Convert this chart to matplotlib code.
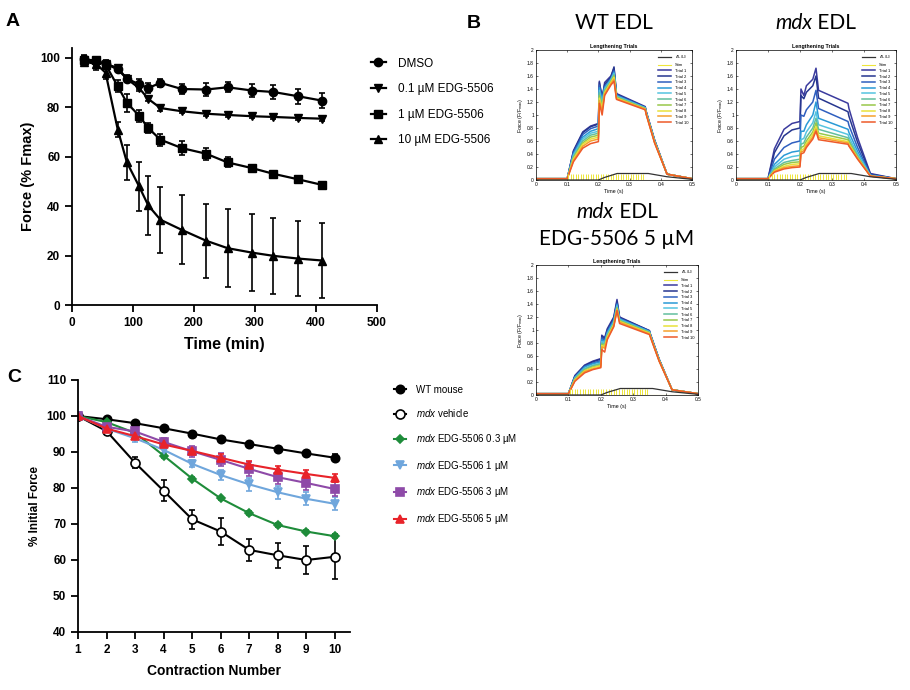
import numpy as np
import matplotlib
matplotlib.use('Agg')
import matplotlib.pyplot as plt
from matplotlib.lines import Line2D
from matplotlib.ticker import FormatStrFormatter

plt.rcParams['font.family'] = ['Liberation Sans', 'DejaVu Sans']
plt.rcParams['mathtext.fontset'] = 'custom'
plt.rcParams['mathtext.it'] = 'Liberation Sans:italic'
plt.rcParams['mathtext.rm'] = 'Liberation Sans'

# ---------------- panel A : force over time ----------------
a_time = [20, 40, 55, 75, 90, 110, 125, 145, 180, 220, 255, 295, 330, 370, 410]
dmso = [99.5, 98.6, 97.7, 95.3, 91.6, 89.3, 87.8, 89.9, 87.4, 87.2, 88.1, 86.8, 86.2, 84.5, 82.7]
dmso_err = [1.5, 1.5, 1.5, 1.0, 1.5, 2.0, 2.0, 1.5, 2.0, 2.5, 2.0, 2.5, 3.0, 3.0, 3.0]
edg_01 = [98.5, 98.2, 97.5, 96.0, 91.5, 87.8, 83.4, 79.7, 78.4, 77.4, 76.9, 76.4, 76.1, 75.7, 75.4]
edg_01_err = [1, 1, 1, 1, 1, 1, 1, 1, 0.8, 0.8, 0.8, 0.8, 0.8, 0.8, 0.8]
edg_1 = [99.3, 99.0, 97.3, 88.5, 81.8, 76.6, 71.6, 66.9, 63.5, 61.2, 57.7, 55.4, 53.1, 50.9, 48.6]
edg_1_err = [1.5, 1.5, 1.5, 2.5, 3.5, 2.5, 2.0, 2.5, 3.0, 2.5, 2.0, 1.0, 1.0, 1.0, 1.0]
edg_10 = [98.5, 97.5, 94.0, 71.0, 57.7, 48.0, 40.3, 34.5, 30.4, 26.0, 23.0, 21.2, 19.9, 18.8, 18.0]
edg_10_err = [1.5, 2.5, 2.5, 3.0, 7.0, 10.0, 12.0, 13.4, 14.0, 15.0, 15.7, 15.5, 15.4, 15.0, 15.0]
a_labels = ['DMSO', '0.1 µM EDG-5506', '1 µM EDG-5506', '10 µM EDG-5506']

# ---------------- panel B : lengthening trials ----------------
b_time = [0, 0.1, 0.12, 0.15, 0.175, 0.2, 0.203, 0.212, 0.22, 0.24, 0.25, 0.258, 0.35, 0.353, 0.38, 0.42, 0.5]
wt_trials = [
    [.02, .02, .45, .74, .83, .87, 1.52, 1.22, 1.50, 1.60, 1.72, 1.33, 1.13, 1.06, .62, .09, .02],
    [.02, .02, .44, .73, .82, .86, 1.50, 1.28, 1.47, 1.58, 1.74, 1.32, 1.12, 1.05, .61, .09, .02],
    [.02, .02, .42, .70, .79, .83, 1.46, 1.25, 1.44, 1.56, 1.68, 1.31, 1.12, 1.05, .61, .09, .02],
    [.02, .02, .40, .66, .75, .79, 1.42, 1.22, 1.42, 1.55, 1.66, 1.30, 1.11, 1.04, .60, .09, .02],
    [.02, .02, .38, .63, .72, .75, 1.38, 1.18, 1.40, 1.54, 1.64, 1.29, 1.11, 1.04, .60, .09, .02],
    [.02, .02, .36, .60, .69, .72, 1.34, 1.15, 1.38, 1.52, 1.62, 1.28, 1.10, 1.03, .59, .09, .02],
    [.02, .02, .34, .57, .66, .69, 1.30, 1.12, 1.36, 1.51, 1.60, 1.27, 1.10, 1.03, .59, .09, .02],
    [.02, .02, .32, .55, .63, .66, 1.26, 1.10, 1.34, 1.50, 1.58, 1.26, 1.09, 1.02, .58, .09, .02],
    [.02, .02, .30, .52, .60, .63, 1.22, 1.06, 1.32, 1.48, 1.55, 1.25, 1.09, 1.02, .58, .09, .02],
    [.02, .02, .28, .49, .56, .59, 1.18, 1.00, 1.30, 1.46, 1.52, 1.24, 1.08, 1.01, .57, .09, .02],
]
mdx_trials = [
    [.02, .02, .48, .78, .87, .90, 1.40, 1.30, 1.45, 1.55, 1.72, 1.38, 1.18, 1.10, .65, .10, .02],
    [.02, .02, .42, .68, .77, .80, 1.30, 1.25, 1.35, 1.45, 1.60, 1.26, 1.05, .98, .58, .09, .02],
    [.02, .02, .32, .50, .57, .60, 1.00, .98, 1.08, 1.20, 1.38, 1.10, .90, .84, .50, .08, .02],
    [.02, .02, .24, .38, .43, .45, .75, .75, .85, 1.00, 1.20, .95, .78, .73, .44, .07, .02],
    [.02, .02, .20, .32, .36, .38, .62, .64, .74, .88, 1.05, .85, .70, .66, .40, .07, .02],
    [.02, .02, .17, .27, .30, .32, .55, .57, .66, .80, .95, .78, .65, .61, .37, .06, .02],
    [.02, .02, .15, .24, .27, .28, .50, .52, .60, .74, .88, .72, .62, .58, .35, .06, .02],
    [.02, .02, .14, .21, .24, .25, .46, .48, .56, .70, .82, .68, .59, .55, .34, .06, .02],
    [.02, .02, .13, .19, .21, .22, .43, .45, .53, .66, .78, .65, .57, .53, .33, .06, .02],
    [.02, .02, .12, .17, .19, .20, .40, .42, .50, .63, .75, .62, .55, .52, .32, .06, .02],
]
edg_trials = [
    [.02, .02, .30, .46, .52, .56, .92, .88, 1.02, 1.20, 1.47, 1.20, .99, .94, .55, .08, .02],
    [.02, .02, .29, .45, .51, .55, .90, .86, 1.00, 1.18, 1.44, 1.19, .99, .93, .55, .08, .02],
    [.02, .02, .28, .44, .49, .53, .88, .84, .98, 1.16, 1.41, 1.18, .98, .93, .55, .08, .02],
    [.02, .02, .27, .43, .48, .51, .85, .82, .96, 1.14, 1.39, 1.17, .98, .92, .54, .08, .02],
    [.02, .02, .26, .41, .46, .49, .82, .80, .94, 1.12, 1.37, 1.16, .97, .92, .54, .08, .02],
    [.02, .02, .25, .40, .45, .48, .80, .78, .92, 1.10, 1.35, 1.15, .96, .91, .54, .08, .02],
    [.02, .02, .24, .38, .43, .46, .78, .76, .90, 1.09, 1.34, 1.14, .96, .91, .53, .08, .02],
    [.02, .02, .23, .37, .42, .45, .76, .74, .89, 1.08, 1.32, 1.13, .95, .90, .53, .08, .02],
    [.02, .02, .22, .36, .40, .43, .74, .72, .87, 1.06, 1.31, 1.12, .94, .90, .53, .08, .02],
    [.02, .02, .21, .34, .39, .42, .70, .66, .85, 1.05, 1.30, 1.10, .93, .89, .52, .08, .02],
]
dl_time = [0, 0.2, 0.22, 0.26, 0.36, 0.42, 0.5]
dl_value = [0, 0, 0.04, 0.1, 0.1, 0.05, 0.01]
stim_times = [0.104, 0.112, 0.120, 0.128, 0.136, 0.144, 0.152, 0.160, 0.168, 0.176,
              0.184, 0.192, 0.200, 0.208, 0.216, 0.224, 0.232, 0.240, 0.248, 0.256,
              0.264, 0.272, 0.280, 0.288, 0.296, 0.304, 0.312, 0.320, 0.328, 0.336, 0.344]
trial_colors = ['#3b3b9e', '#26368f', '#2f5fbf', '#2a9ad6', '#55c4e0',
                '#62bf9e', '#98c84a', '#e8e23a', '#f5a02c', '#ee5a2a']

# ---------------- panel C : eccentric contractions ----------------
contraction = [1, 2, 3, 4, 5, 6, 7, 8, 9, 10]
wt_mouse = [100, 99.1, 98.0, 96.6, 95.1, 93.5, 92.2, 90.9, 89.6, 88.4]
wt_mouse_err = [0, 0.4, 0.5, 0.5, 0.5, 0.6, 0.6, 0.6, 0.7, 1.0]
mdx_vehicle = [100, 95.8, 87.0, 79.2, 71.3, 67.9, 62.8, 61.3, 60.0, 60.9]
mdx_vehicle_err = [0, 0.8, 1.5, 2.9, 2.7, 3.8, 3.0, 3.5, 4.0, 6.2]
mdx_03 = [100, 98.3, 95.3, 89.0, 82.6, 77.1, 73.0, 69.7, 67.9, 66.6]
mdx_03_err = [0, 0.5, 0.5, 0.6, 0.5, 0.5, 0.5, 0.5, 0.5, 0.6]
mdx_1 = [100, 96.5, 93.8, 90.6, 86.7, 83.6, 81.0, 78.8, 77.0, 75.6]
mdx_1_err = [0, 0.5, 1.0, 1.0, 1.0, 1.5, 1.8, 1.8, 1.8, 1.8]
mdx_3 = [100, 97.0, 95.7, 92.8, 90.2, 87.8, 85.3, 83.0, 81.4, 79.7]
mdx_3_err = [0, 0.5, 1.0, 1.2, 1.5, 1.8, 2.0, 2.0, 2.0, 2.0]
mdx_5 = [100, 96.5, 94.4, 92.1, 90.3, 88.4, 86.5, 85.1, 83.9, 82.8]
mdx_5_err = [0, 0.5, 0.8, 0.8, 0.8, 1.0, 1.0, 1.0, 1.0, 1.2]
c_labels = ['WT mouse', r'$mdx$ vehicle', r'$mdx$ EDG-5506 0.3 µM',
            r'$mdx$ EDG-5506 1 µM', r'$mdx$ EDG-5506 3 µM', r'$mdx$ EDG-5506 5 µM']

W, H = 910, 690
fig = plt.figure(figsize=(W / 100, H / 100), dpi=100)


def px_axes(left, top, right, bottom):
    return fig.add_axes([left / W, 1 - bottom / H, (right - left) / W, (bottom - top) / H])


def prism_style(ax):
    for s in ['top', 'right']:
        ax.spines[s].set_visible(False)
    for s in ['left', 'bottom']:
        ax.spines[s].set_linewidth(1.3)
    ax.tick_params(direction='out', length=5, width=1.3, labelsize=8.5)
    for lab in ax.get_xticklabels() + ax.get_yticklabels():
        lab.set_fontweight('bold')


# ---- A
axA = px_axes(72, 48, 377, 305)
series_a = [(dmso, dmso_err, 'o'), (edg_01, edg_01_err, 'v'),
            (edg_1, edg_1_err, 's'), (edg_10, edg_10_err, '^')]
handles_a = []
for (vals, err, mk), lab in zip(series_a, a_labels):
    axA.errorbar(a_time, vals, yerr=err, color='black', marker=mk, markersize=6,
                 lw=1.6, capsize=2.5, elinewidth=1.2, capthick=1.2)
    handles_a.append(Line2D([], [], color='black', marker=mk, markersize=6, lw=1.6, label=lab))
axA.set_xlim(0, 500)
axA.set_ylim(0, 104)
axA.set_xticks([0, 100, 200, 300, 400, 500])
axA.set_yticks([0, 20, 40, 60, 80, 100])
prism_style(axA)
axA.set_xlabel('Time (min)', fontsize=11.5, fontweight='bold', labelpad=6)
axA.set_ylabel('Force (% Fmax)', fontsize=10.5, fontweight='bold', labelpad=4)
axA.legend(handles=handles_a, loc='upper left', bbox_to_anchor=(360 / W, 1 - 47 / H),
           bbox_transform=fig.transFigure, frameon=False, fontsize=8.5, handlelength=1.3,
           labelspacing=1.15, handletextpad=1.0)

# ---- B


def trial_panel(ax, trials):
    for tr, col, i in zip(trials, trial_colors, range(len(trials))):
        ax.plot(b_time, tr, color=col, lw=1.1, label='Trial %d' % (i + 1))
    ax.vlines(stim_times, 0, 0.1, color='#eee63a', lw=0.7)
    ax.plot([0, 0.5], [0, 0], color='#eee63a', lw=0.8, label='Stim')
    ax.plot(dl_time, dl_value, color='#333333', lw=0.9, label=r'$\Delta$L/L$_0$')
    h, l = ax.get_legend_handles_labels()
    order = [11, 10] + list(range(10))
    ax.legend([h[i] for i in order], [l[i] for i in order], loc='upper right', frameon=False,
              fontsize=3.0, handlelength=3.2, labelspacing=0.42, borderaxespad=0.5)
    ax.set_xlim(0, 0.5)
    ax.set_ylim(0, 2)
    ax.set_xticks([0, 0.1, 0.2, 0.3, 0.4, 0.5])
    ax.set_yticks(np.arange(0, 2.01, 0.2))
    ax.xaxis.set_major_formatter(FormatStrFormatter('%g'))
    ax.yaxis.set_major_formatter(FormatStrFormatter('%g'))
    ax.tick_params(direction='in', length=1.5, width=0.4, labelsize=3.5, top=True, right=True, pad=1.5)
    for s in ax.spines.values():
        s.set_linewidth(0.5)
    ax.set_title('Lengthening Trials', fontsize=3.8, fontweight='bold', pad=1.5)
    ax.set_xlabel('Time (s)', fontsize=3.8, labelpad=1.5)
    ax.set_ylabel('Force (F/F$_{max}$)', fontsize=3.8, labelpad=1.5)


axB1 = px_axes(536, 50, 692, 180)
trial_panel(axB1, wt_trials)
axB2 = px_axes(736, 50, 896, 180)
trial_panel(axB2, mdx_trials)
axB3 = px_axes(536, 265, 698, 395)
trial_panel(axB3, edg_trials)

renderer = fig.canvas.get_renderer()


def mixed_text(xc, yc, parts, size):
    texts = [fig.text(0, 0, t, style=s, fontsize=size, family=['Lato', 'DejaVu Sans'], va='center')
             for t, s in parts]
    widths = [t.get_window_extent(renderer).width for t in texts]
    x = xc - sum(widths) / 2
    for t, w in zip(texts, widths):
        t.set_position((x / W, 1 - yc / H))
        x += w


mixed_text(614, 23, [('WT EDL', 'normal')], 15)
mixed_text(816, 23, [('mdx', 'italic'), (' EDL', 'normal')], 15)
mixed_text(617, 212, [('mdx', 'italic'), (' EDL', 'normal')], 15)
mixed_text(617, 239, [('EDG-5506 5 µM', 'normal')], 15)

# ---- C
axC = px_axes(78, 380, 350, 632)
series_c = [(wt_mouse, wt_mouse_err, 'o', 'black', 'black', 6),
            (mdx_vehicle, mdx_vehicle_err, 'o', 'black', 'white', 6.5),
            (mdx_03, mdx_03_err, 'D', '#1e8c3a', '#1e8c3a', 4),
            (mdx_1, mdx_1_err, 'v', '#6fa6dc', '#6fa6dc', 6),
            (mdx_3, mdx_3_err, 's', '#8e4aa8', '#8e4aa8', 6),
            (mdx_5, mdx_5_err, '^', '#e8232a', '#e8232a', 6)]
handles_c = []
for (vals, err, mk, col, fc, ms), lab in zip(series_c, c_labels):
    axC.errorbar(contraction, vals, yerr=err, color=col, marker=mk, markersize=ms,
                 markerfacecolor=fc, markeredgecolor=col, markeredgewidth=1.2,
                 lw=1.5, capsize=2.5, elinewidth=1.2, capthick=1.2)
    handles_c.append(Line2D([], [], color=col, marker=mk, markersize=ms, markerfacecolor=fc,
                            markeredgecolor=col, markeredgewidth=1.2, lw=1.5, label=lab))
axC.set_xlim(1, 10.53)
axC.set_ylim(40, 110)
axC.set_xticks(contraction)
axC.set_yticks(range(40, 111, 10))
prism_style(axC)
axC.set_xlabel('Contraction Number', fontsize=10, fontweight='bold', labelpad=6)
axC.set_ylabel('% Initial Force', fontsize=8.5, fontweight='bold', labelpad=4)
axC.legend(handles=handles_c, loc='upper left', bbox_to_anchor=(385 / W, 1 - 376 / H),
           bbox_transform=fig.transFigure, frameon=False, fontsize=7, handlelength=1.3,
           labelspacing=1.3, handletextpad=1.0)

# panel letters
fig.text(13 / W, 1 - 22 / H, 'A', fontsize=14, fontweight='bold', va='center', ha='center')
fig.text(474 / W, 1 - 23 / H, 'B', fontsize=14, fontweight='bold', va='center', ha='center')
fig.text(14 / W, 1 - 378 / H, 'C', fontsize=14, fontweight='bold', va='center', ha='center')

fig.savefig('out.png', dpi=100)
